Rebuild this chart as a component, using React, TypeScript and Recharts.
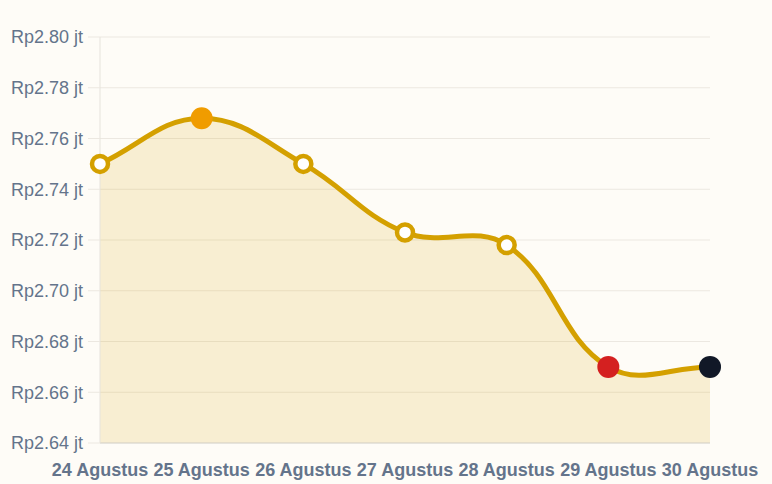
import { AreaChart, Area, XAxis, YAxis, CartesianGrid } from "recharts";

const days = ["24 Agustus", "25 Agustus", "26 Agustus", "27 Agustus", "28 Agustus", "29 Agustus", "30 Agustus"];
const prices = [2.75, 2.768, 2.75, 2.723, 2.718, 2.67, 2.67];
const yTicks = [2.64, 2.66, 2.68, 2.7, 2.72, 2.74, 2.76, 2.78, 2.8];

const GOLD = "#d4a000";
const LABEL = "#64748b";

// Chart.js style bezier (tension 0.4) as a d3 curve factory
class TensionCurve {
  _context: any;
  _line: number = NaN;
  _x: number[] = [];
  _y: number[] = [];
  constructor(context: any) {
    this._context = context;
  }
  areaStart() {
    this._line = 0;
  }
  areaEnd() {
    this._line = NaN;
  }
  lineStart() {
    this._x = [];
    this._y = [];
  }
  point(x: number, y: number) {
    this._x.push(+x);
    this._y.push(+y);
  }
  lineEnd() {
    const xs = this._x;
    const ys = this._y;
    const n = xs.length;
    const t = 0.4;
    if (n) {
      if (this._line) this._context.lineTo(xs[0], ys[0]);
      else this._context.moveTo(xs[0], ys[0]);
      const cpIn: [number, number][] = [];
      const cpOut: [number, number][] = [];
      for (let i = 0; i < n; i++) {
        const px = xs[Math.max(i - 1, 0)], py = ys[Math.max(i - 1, 0)];
        const nx = xs[Math.min(i + 1, n - 1)], ny = ys[Math.min(i + 1, n - 1)];
        const d01 = Math.hypot(xs[i] - px, ys[i] - py);
        const d12 = Math.hypot(nx - xs[i], ny - ys[i]);
        let s01 = d01 / (d01 + d12);
        let s12 = d12 / (d01 + d12);
        if (isNaN(s01)) s01 = 0;
        if (isNaN(s12)) s12 = 0;
        const fa = t * s01;
        const fb = t * s12;
        cpIn.push([xs[i] - fa * (nx - px), ys[i] - fa * (ny - py)]);
        cpOut.push([xs[i] + fb * (nx - px), ys[i] + fb * (ny - py)]);
      }
      for (let i = 0; i < n - 1; i++) {
        this._context.bezierCurveTo(cpOut[i][0], cpOut[i][1], cpIn[i + 1][0], cpIn[i + 1][1], xs[i + 1], ys[i + 1]);
      }
    }
    if (this._line || (this._line !== 0 && n === 1)) this._context.closePath();
    this._line = 1 - this._line;
  }
}

const tensionCurve = (context: any) => new TensionCurve(context);

const data = days.map((day, i) => ({ day, price: prices[i] }));

const renderDot = (props: any) => {
  const { cx, cy, index } = props;
  if (index === 1) return <circle key={index} cx={cx} cy={cy} r={11} fill="#f09c00" />;
  if (index === 5) return <circle key={index} cx={cx} cy={cy} r={11} fill="#d42020" />;
  if (index === 6) return <circle key={index} cx={cx} cy={cy} r={11} fill="#111827" />;
  return <circle key={index} cx={cx} cy={cy} r={8} fill="#ffffff" stroke={GOLD} strokeWidth={4.5} />;
};

export default function App() {
  return (
    <div
      style={{
        position: "fixed",
        left: 0,
        top: 0,
        width: 772,
        height: 484,
        background: "#fefcf7",
        fontFamily: "'Liberation Sans', Arial, sans-serif",
      }}
    >
      <AreaChart width={772} height={484} data={data} margin={{ top: 37, right: 62, left: 0, bottom: 0 }}>
        <CartesianGrid vertical={false} stroke="#ece8e1" />
        <XAxis
          dataKey="day"
          interval={0}
          height={41}
          tickLine={false}
          tickSize={0}
          tickMargin={20}
          axisLine={{ stroke: "#d8d5ce" }}
          tick={{ fill: LABEL, fontSize: 18, fontWeight: 700 }}
        />
        <YAxis
          domain={[2.64, 2.8]}
          ticks={yTicks}
          width={100}
          tickSize={12}
          tickMargin={5}
          tickLine={{ stroke: "#ece8e1" }}
          axisLine={{ stroke: "#e6e3dc" }}
          tick={{ fill: LABEL, fontSize: 18 }}
          tickFormatter={(v: number) => `Rp${v.toFixed(2)} jt`}
        />
        <Area
          type={tensionCurve as any}
          dataKey="price"
          stroke={GOLD}
          strokeWidth={5}
          fill={GOLD}
          fillOpacity={0.15}
          dot={renderDot}
          activeDot={false}
          isAnimationActive={false}
        />
      </AreaChart>
    </div>
  );
}
